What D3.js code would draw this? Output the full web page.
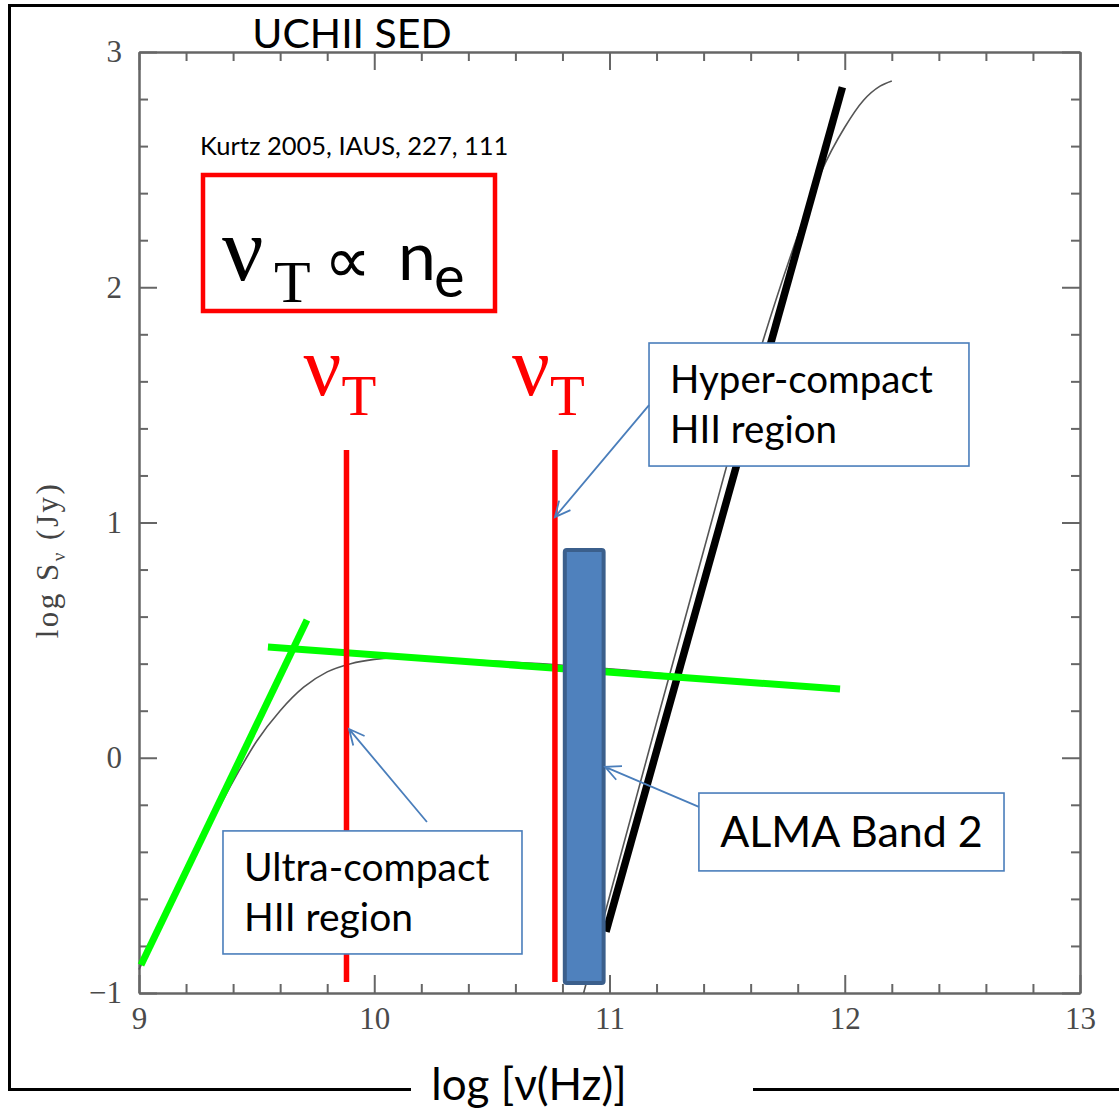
<!DOCTYPE html>
<html>
<head>
<meta charset="utf-8">
<script src="https://cdn.jsdelivr.net/npm/d3@7"></script>
<style>
  body { margin: 0; background: #fff; }
  svg { display: block; }
  .ax path, .ax line { stroke: #666; stroke-width: 2; }
  .lab text { font-family: "Liberation Serif", "Times New Roman", serif; font-size: 31px; fill: #4a4a4a; }
  .lab path { display: none; }
  .calibri { font-family: Lato, "Open Sans", sans-serif; fill: #000; }
  .greek { font-family: "Liberation Serif", "Times New Roman", serif; }
</style>
</head>
<body>
<svg id="chart" width="1119" height="1109"></svg>
<script>
// axis ticks (log nu, log S)
var xMajor = [9, 10, 11, 12, 13];
var yMajor = [-1, 0, 1, 2, 3];
var xMinor = [9.2, 9.4, 9.6, 9.8, 10.2, 10.4, 10.6, 10.8, 11.2, 11.4, 11.6, 11.8, 12.2, 12.4, 12.6, 12.8];
var yMinor = [-0.8, -0.6, -0.4, -0.2, 0.2, 0.4, 0.6, 0.8, 1.2, 1.4, 1.6, 1.8, 2.2, 2.4, 2.6, 2.8];

// model SED, free-free part (thin grey curve)
var freeFreeX = [9.0, 9.2, 9.3, 9.4, 9.5, 9.6, 9.7, 9.8, 9.9, 10.0, 10.1, 10.3, 10.7, 11.2, 11.7];
var freeFreeY = [-0.90, -0.49, -0.29, -0.10, 0.07, 0.20, 0.30, 0.365, 0.40, 0.418, 0.424, 0.42, 0.40, 0.36, 0.31];

// model SED, dust part (thin grey curve)
var dustX = [10.89, 11.0, 11.2, 11.4, 11.6, 11.8, 11.9, 12.0, 12.08, 12.15, 12.2];
var dustY = [-1.0, -0.59, 0.15, 0.88, 1.6, 2.22, 2.49, 2.68, 2.795, 2.855, 2.877];

// hand drawn fits
var dustFitX = [10.985, 11.99];
var dustFitY = [-0.74, 2.85];
var thickFitX = [9.0085, 9.714];
var thickFitY = [-0.881, 0.586];
var thinFitX = [9.548, 11.98];
var thinFitY = [0.471, 0.292];

// turnover frequencies (UC and HC) and their extent
var turnoverX = [9.882, 10.768];
var turnoverY = [-0.953, 1.308];

// ALMA band 2
var bandX = [10.81, 10.975];
var bandY = [-0.957, 0.883];

var svg = d3.select("#chart");

var x = d3.scaleLinear().domain([9, 13]).range([139, 1080]);
var y = d3.scaleLinear().domain([-1, 3]).range([993, 52]);

// outer frame of the slide figure
var frame = svg.append("g").attr("stroke", "#000").attr("stroke-width", 3).attr("fill", "none");
frame.append("path").attr("d", "M1119,5.5H9.5V1089.5H411");
frame.append("path").attr("d", "M753,1089.5H1119");

// box axes with inward ticks on all four sides
function ticks(axisFn, scale, values, size, tx, ty) {
  svg.append("g").attr("class", "ax")
    .attr("transform", "translate(" + tx + "," + ty + ")")
    .call(axisFn(scale).tickValues(values).tickSize(size).tickSizeOuter(0).tickFormat(""));
}
ticks(d3.axisTop, x, xMajor, 18, 0, 993);
ticks(d3.axisTop, x, xMinor, 9, 0, 993);
ticks(d3.axisBottom, x, xMajor, 18, 0, 52);
ticks(d3.axisBottom, x, xMinor, 9, 0, 52);
ticks(d3.axisRight, y, yMajor, 18, 139, 0);
ticks(d3.axisRight, y, yMinor, 9, 139, 0);
ticks(d3.axisLeft, y, yMajor, 18, 1080, 0);
ticks(d3.axisLeft, y, yMinor, 9, 1080, 0);

svg.append("g").attr("class", "lab").attr("transform", "translate(0,993)")
  .call(d3.axisBottom(x).tickValues(xMajor).tickSize(0).tickPadding(14).tickFormat(d3.format("d")));
svg.append("g").attr("class", "lab").attr("transform", "translate(139,0)")
  .call(d3.axisLeft(y).tickValues(yMajor).tickSize(0).tickPadding(17).tickFormat(d3.format("d")));

var yt = svg.append("text")
  .attr("transform", "translate(58,560) rotate(-90)")
  .attr("text-anchor", "middle")
  .attr("font-family", "Liberation Serif, serif")
  .attr("font-size", 31).attr("fill", "#444")
  .attr("letter-spacing", 2.5);
yt.append("tspan").text("log S");
yt.append("tspan").attr("font-size", 19).attr("dy", 7).text("ν");
yt.append("tspan").attr("dy", -7).text("  (Jy)");

// curves
var line = d3.line().x(function(d) { return x(d[0]); }).y(function(d) { return y(d[1]); });
var smooth = d3.line().curve(d3.curveMonotoneX).x(function(d) { return x(d[0]); }).y(function(d) { return y(d[1]); });

svg.append("path").datum(d3.zip(freeFreeX, freeFreeY))
  .attr("d", smooth).attr("fill", "none").attr("stroke", "#555").attr("stroke-width", 1.6);
svg.append("path").datum(d3.zip(dustX, dustY))
  .attr("d", smooth).attr("fill", "none").attr("stroke", "#555").attr("stroke-width", 1.6);

svg.append("path").datum(d3.zip(dustFitX, dustFitY))
  .attr("d", line).attr("stroke", "#000").attr("stroke-width", 7.5);
svg.append("path").datum(d3.zip(thickFitX, thickFitY))
  .attr("d", line).attr("stroke", "#00ff00").attr("stroke-width", 7);
svg.append("path").datum(d3.zip(thinFitX, thinFitY))
  .attr("d", line).attr("stroke", "#00ff00").attr("stroke-width", 7);

svg.selectAll(".turn").data(turnoverX).enter().append("line").attr("class", "turn")
  .attr("x1", function(d) { return x(d); }).attr("x2", function(d) { return x(d); })
  .attr("y1", y(turnoverY[0])).attr("y2", y(turnoverY[1]))
  .attr("stroke", "#ff0000").attr("stroke-width", 5.5);

svg.append("rect")
  .attr("x", x(bandX[0])).attr("y", y(bandY[1]))
  .attr("width", x(bandX[1]) - x(bandX[0])).attr("height", y(bandY[0]) - y(bandY[1]))
  .attr("rx", 2).attr("fill", "#4f81bd").attr("stroke", "#3b5f8c").attr("stroke-width", 4);

// nu_T labels above the red lines
turnoverX.forEach(function(v) {
  var t = svg.append("text").attr("class", "greek").attr("fill", "#ff0000")
    .attr("x", x(v) - 43).attr("y", 395);
  t.append("tspan").attr("font-size", 84).text("ν");
  t.append("tspan").attr("font-size", 57).attr("dy", 20).text("T");
});

// title and reference
svg.append("text").attr("class", "calibri").attr("x", 352).attr("y", 48)
  .attr("text-anchor", "middle").attr("font-size", 41).text("UCHII SED");
svg.append("text").attr("class", "calibri").attr("x", 200).attr("y", 155)
  .attr("font-size", 25.5).text("Kurtz 2005, IAUS, 227, 111");

// red box with the proportionality
svg.append("rect").attr("x", 203).attr("y", 175).attr("width", 292).attr("height", 136)
  .attr("fill", "none").attr("stroke", "#ff0000").attr("stroke-width", 4.5);
var prop = svg.append("text");
prop.append("tspan").attr("class", "greek").attr("font-size", 92).attr("x", 222).attr("y", 280).text("ν");
prop.append("tspan").attr("class", "greek").attr("font-size", 60).attr("x", 274).attr("y", 302).text("T");
prop.append("tspan").attr("font-family", "DejaVu Sans, sans-serif").attr("font-size", 66)
  .attr("x", 324).attr("y", 283).text("∝");
prop.append("tspan").attr("class", "calibri").attr("font-size", 68).attr("x", 398).attr("y", 280).text("n");
prop.append("tspan").attr("class", "calibri").attr("font-size", 58).attr("x", 434).attr("y", 297).text("e");

// callouts: box in data units, arrow from box edge to target
var callouts = [
  { lines: ["Hyper-compact", "HII region"], box: [11.168, 12.528, 1.763, 1.240], size: 38.5,
    from: [11.168, 1.499], to: [10.768, 1.023] },
  { lines: ["Ultra-compact", "HII region"], box: [9.357, 10.628, -0.311, -0.834], size: 39,
    from: [10.224, -0.273], to: [9.893, 0.122] },
  { lines: ["ALMA Band 2"], box: [11.380, 12.677, -0.150, -0.481], size: 43,
    from: [11.38, -0.209], to: [10.981, -0.039] }
];

callouts.forEach(function(c) {
  var bx = x(c.box[0]), by = y(c.box[2]);
  var bw = x(c.box[1]) - bx, bh = y(c.box[3]) - by;
  svg.append("rect").attr("x", bx).attr("y", by).attr("width", bw).attr("height", bh)
    .attr("fill", "#fff").attr("stroke", "#4a7ebb").attr("stroke-width", 1.6);
  var x0 = x(c.from[0]), y0 = y(c.from[1]), x1 = x(c.to[0]), y1 = y(c.to[1]);
  var a = Math.atan2(y1 - y0, x1 - x0), L = 17, s = 0.45;
  svg.append("path")
    .attr("d", "M" + x0 + "," + y0 + "L" + x1 + "," + y1 +
      "M" + (x1 - L * Math.cos(a - s)) + "," + (y1 - L * Math.sin(a - s)) +
      "L" + x1 + "," + y1 +
      "L" + (x1 - L * Math.cos(a + s)) + "," + (y1 - L * Math.sin(a + s)))
    .attr("fill", "none").attr("stroke", "#4a7ebb").attr("stroke-width", 1.8);
  var t = svg.append("text").attr("class", "calibri").attr("font-size", c.size);
  if (c.lines.length == 2) {
    t.append("tspan").attr("x", bx + 21).attr("y", by + 50).text(c.lines[0]);
    t.append("tspan").attr("x", bx + 21).attr("y", by + 100).text(c.lines[1]);
  } else {
    t.append("tspan").attr("x", bx + bw / 2).attr("y", by + 54).attr("text-anchor", "middle").text(c.lines[0]);
  }
});

// x-axis title set into the frame
svg.append("text").attr("class", "calibri").attr("x", 529).attr("y", 1100)
  .attr("text-anchor", "middle").attr("font-size", 44).text("log [ν(Hz)]");
</script>
</body>
</html>
